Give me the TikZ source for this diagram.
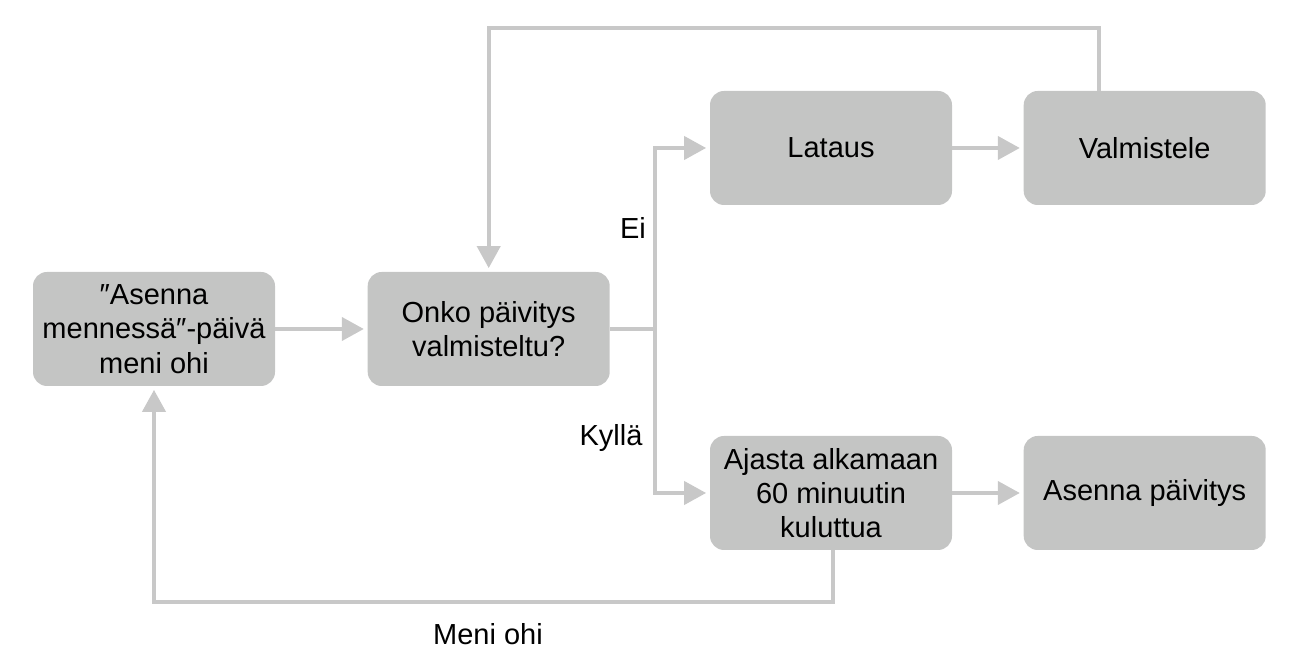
\documentclass[tikz,border=0pt]{standalone}
\usepackage{fontspec}
\setmainfont{Liberation Sans}
\usetikzlibrary{positioning, arrows.meta}
\definecolor{boxgray}{HTML}{C4C5C4}
\definecolor{linegray}{HTML}{C8C8C8}
\tikzset{
    >={Triangle[length=0.44cm, width=0.46cm]}, % big flat arrow heads
    stepbox/.style={fill=boxgray, rounded corners=0.28cm, minimum width=4.84cm,
        minimum height=2.28cm, align=center, font=\fontsize{16.5}{19.5}\selectfont}, % the grey boxes
    flow/.style={draw=linegray, line width=0.08cm}, % the connectors
    flowlabel/.style={font=\fontsize{16.5}{19.5}\selectfont}, % text next to the connectors
}
\begin{document}
\begin{tikzpicture}
    \useasboundingbox (0,0) rectangle (25.98,13.4);
    \node[stepbox] (passed) at (3.08,6.82) {″Asenna\\mennessä″-päivä\\meni ohi};
    \node[stepbox, right=1.84cm of passed] (ready) {Onko päivitys\\valmisteltu?};
    \node[stepbox] (download) at (16.62,10.44) {Lataus};
    \node[stepbox, right=1.42cm of download] (prepare) {Valmistele};
    \node[stepbox] (schedule) at (16.62,3.54) {Ajasta alkamaan\\60 minuutin\\kuluttua};
    \node[stepbox, right=1.42cm of schedule] (install) {Asenna päivitys};
    \coordinate (split) at (13.10,6.82);
    \coordinate (loopup) at (ready.north |- 0,12.84);
    \coordinate (loopdown) at (passed.south |- 0,1.36);
    \draw[flow, ->, shorten >=2pt] (passed) -- (ready);
    \draw[flow] (ready) -- (split);
    \draw[flow, ->, shorten >=2pt] (split) |- (download);
    \draw[flow, ->, shorten >=2pt] (split) |- (schedule);
    \draw[flow, ->, shorten >=2pt] (download) -- (prepare);
    \draw[flow, ->, shorten >=2pt] (schedule) -- (install);
    \draw[flow, ->, shorten >=2pt] ([xshift=-0.92cm]prepare.north) |- (loopup) -- (ready.north);
    \draw[flow, ->, shorten >=2pt] ([xshift=0.04cm]schedule.south) |- (loopdown) -- (passed.south);
    \node[flowlabel] (no) at (12.66,8.84) {Ei};
    \node[flowlabel] (yes) at (12.22,4.64) {Kyllä};
    \node[flowlabel] (missed) at (9.76,0.72) {Meni ohi};
\end{tikzpicture}
\end{document}
